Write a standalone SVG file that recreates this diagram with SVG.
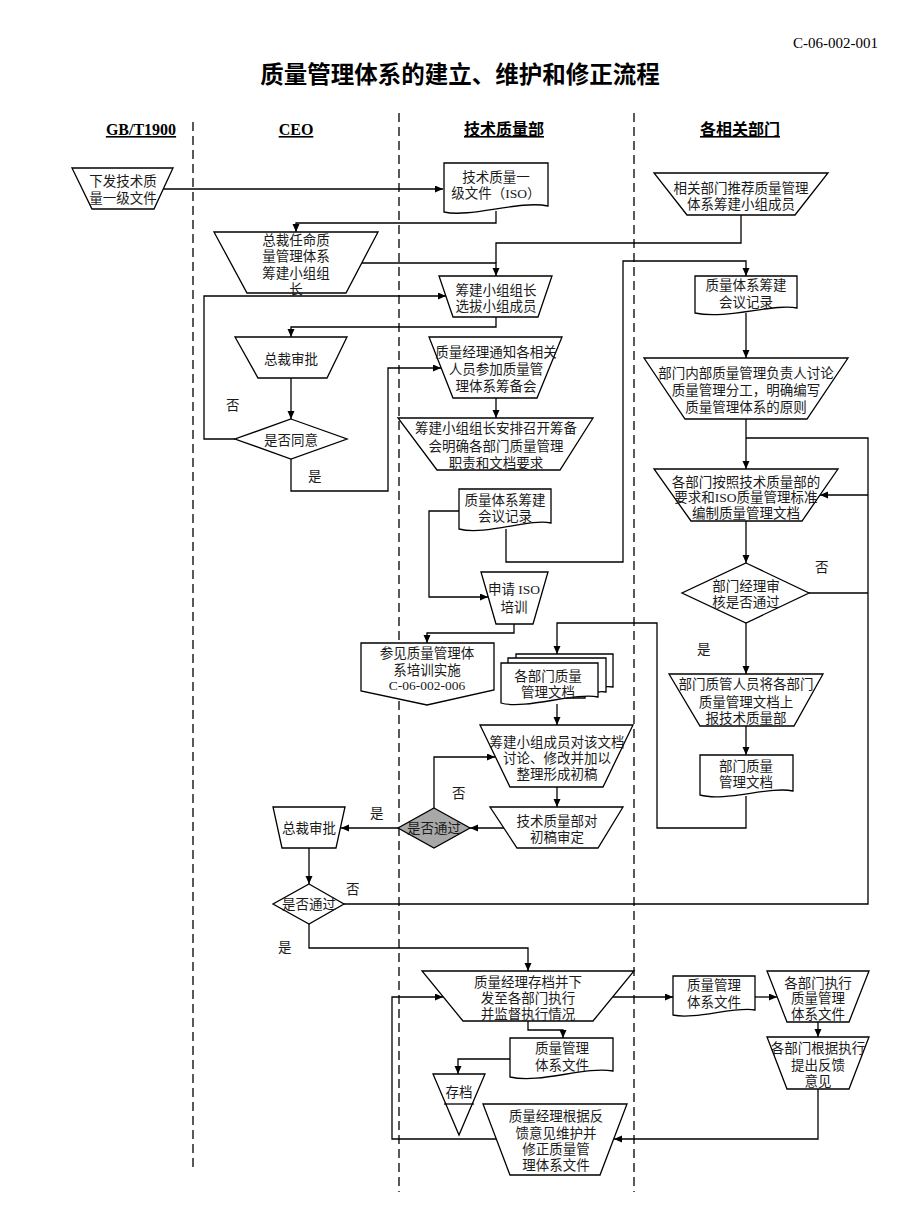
<svg xmlns="http://www.w3.org/2000/svg" width="920" height="1227" viewBox="0 0 920 1227">
<style>
.s{fill:#fff;stroke:#000;stroke-width:1.3}
.g{fill:#a8a8a8;stroke:#000;stroke-width:1.3}
.t{font-family:"Liberation Serif","Noto Sans CJK SC",serif;font-size:13.5px;fill:#1a1a1a;text-anchor:middle}
.l{font-family:"Liberation Serif","Noto Sans CJK SC",serif;font-size:13.5px;fill:#1a1a1a}
.h{font-family:"Liberation Serif","Noto Sans CJK SC",serif;font-size:16px;font-weight:bold;text-anchor:middle;text-decoration:underline}
.c{fill:none;stroke:#000;stroke-width:1.3}
.d{fill:none;stroke:#000;stroke-width:1.3;stroke-dasharray:9,5}
</style>
<defs>
<marker id="a" markerUnits="userSpaceOnUse" markerWidth="9" markerHeight="8" refX="8" refY="3.5" orient="auto"><path d="M0,0 L8,3.5 L0,7 z" fill="#000"/></marker>
</defs>
<rect width="920" height="1227" fill="#fff"/>
<text x="878" y="48" font-family="Liberation Serif,serif" font-size="15" text-anchor="end">C-06-002-001</text>
<text x="460" y="83" font-family="Noto Sans CJK SC,sans-serif" font-size="23.5" font-weight="bold" text-anchor="middle">质量管理体系的建立、维护和修正流程</text>
<g id="lanes">
<line class="d" x1="193" y1="122" x2="193" y2="1172"/>
<line class="d" x1="399" y1="113" x2="399" y2="1192"/>
<line class="d" x1="634" y1="113" x2="634" y2="1192"/>
<text class="h" x="141" y="135">GB/T1900</text>
<text class="h" x="296" y="135">CEO</text>
<text class="h" x="504" y="135">技术质量部</text>
<text class="h" x="740" y="135">各相关部门</text>
</g>
<g id="connectors">
<path class="c" d="M163,189 H443" marker-end="url(#a)"/>
<path class="c" d="M496,211 V223 H296 V232" marker-end="url(#a)"/>
<path class="c" d="M362,263 H496 V276" marker-end="url(#a)"/>
<path class="c" d="M741,215 V243 H496 V263"/>
<path class="c" d="M235,439 H204 V296 H446" marker-end="url(#a)"/>
<path class="c" d="M496,317 V327 H291 V337" marker-end="url(#a)"/>
<path class="c" d="M291,378 V419" marker-end="url(#a)"/>
<path class="c" d="M291,459 V491 H388 V368 H441" marker-end="url(#a)"/>
<path class="c" d="M496,398 V418" marker-end="url(#a)"/>
<path class="c" d="M506,529 V562 H623 V261 H746 V276" marker-end="url(#a)"/>
<path class="c" d="M459,511 H429 V597 H488" marker-end="url(#a)"/>
<path class="c" d="M514,624 V633 H427 V643" marker-end="url(#a)"/>
<path class="c" d="M746,796 V828 H657 V623 H557 V654" marker-end="url(#a)"/>
<path class="c" d="M557,704 V725" marker-end="url(#a)"/>
<path class="c" d="M557,787 V807" marker-end="url(#a)"/>
<path class="c" d="M504,828 H470" marker-end="url(#a)"/>
<path class="c" d="M434,808 V757 H495" marker-end="url(#a)"/>
<path class="c" d="M398,828 H341" marker-end="url(#a)"/>
<path class="c" d="M309,848 V884" marker-end="url(#a)"/>
<path class="c" d="M344,904 H868 V438 H746"/>
<path class="c" d="M868,495 H820" marker-end="url(#a)"/>
<path class="c" d="M809,593 H868"/>
<path class="c" d="M746,313 V358" marker-end="url(#a)"/>
<path class="c" d="M746,419 V469" marker-end="url(#a)"/>
<path class="c" d="M746,521 V563" marker-end="url(#a)"/>
<path class="c" d="M746,623 V674" marker-end="url(#a)"/>
<path class="c" d="M746,726 V755" marker-end="url(#a)"/>
<path class="c" d="M309,924 V948 H528 V971" marker-end="url(#a)"/>
<path class="c" d="M613,997 H673" marker-end="url(#a)"/>
<path class="c" d="M528,1021 V1030 H563 V1038" marker-end="url(#a)"/>
<path class="c" d="M510,1059 H458 V1074" marker-end="url(#a)"/>
<path class="c" d="M496,1139 H392 V997 H443" marker-end="url(#a)"/>
<path class="c" d="M755,997 H777" marker-end="url(#a)"/>
<path class="c" d="M818,1022 V1037" marker-end="url(#a)"/>
<path class="c" d="M818,1089 V1139 H614" marker-end="url(#a)"/>
<text class="l" x="226" y="410">否</text>
<text class="l" x="308" y="481">是</text>
<text class="l" x="452" y="798">否</text>
<text class="l" x="370" y="818">是</text>
<text class="l" x="346" y="894">否</text>
<text class="l" x="278" y="952">是</text>
<text class="l" x="815" y="572">否</text>
<text class="l" x="697" y="654">是</text>
</g>
<g id="n1"><path class="s" d="M72,168 H173 L154,209 H92 Z"/><text class="t" x="123" y="186">下发技术质</text><text class="t" x="123" y="203">量一级文件</text></g>
<g id="n2"><path class="s" d="M444,163 H548 V206 C520,200 470,218 444,212 Z"/><text class="t" x="496" y="182">技术质量一</text><text class="t" x="496" y="198">级文件（ISO）</text></g>
<g id="n3"><path class="s" d="M214,232 H378 L346,293 H247 Z"/><text class="t" x="296" y="245">总裁任命质</text><text class="t" x="296" y="261">量管理体系</text><text class="t" x="296" y="278">筹建小组组</text><text class="t" x="296" y="294">长</text></g>
<g id="n4"><path class="s" d="M654,173 H828 L795,215 H687 Z"/><text class="t" x="741" y="193">相关部门推荐质量管理</text><text class="t" x="741" y="209">体系筹建小组成员</text></g>
<g id="n5"><path class="s" d="M439,276 H552 L538,317 H453 Z"/><text class="t" x="496" y="295">筹建小组组长</text><text class="t" x="496" y="311">选拔小组成员</text></g>
<g id="n6"><path class="s" d="M235,337 H347 L327,378 H258 Z"/><text class="t" x="291" y="364">总裁审批</text></g>
<g id="n7"><path class="s" d="M291,419 L347,439 L291,459 L235,439 Z"/><text class="t" x="291" y="445">是否同意</text></g>
<g id="n8"><path class="s" d="M429,337 H562 L537,398 H453 Z"/><text class="t" x="496" y="357">质量经理通知各相关</text><text class="t" x="496" y="374">人员参加质量管</text><text class="t" x="496" y="391">理体系筹备会</text></g>
<g id="n9"><path class="s" d="M398,418 H593 L560,470 H437 Z"/><text class="t" x="496" y="433">筹建小组组长安排召开筹备</text><text class="t" x="496" y="451">会明确各部门质量管理</text><text class="t" x="496" y="468">职责和文档要求</text></g>
<g id="n10"><path class="s" d="M459,489 H551 V523 C530,518 485,536 459,529 Z"/><text class="t" x="505" y="505">质量体系筹建</text><text class="t" x="505" y="521">会议记录</text></g>
<g id="n11"><path class="s" d="M481,572 H548 L533,624 H496 Z"/><text class="t" x="514" y="594">申请 ISO</text><text class="t" x="514" y="612">培训</text></g>
<g id="n12"><path class="s" d="M361,643 H494 V690 L427,705 L361,691 Z"/><text class="t" x="427" y="658">参见质量管理体</text><text class="t" x="427" y="675">系培训实施</text><text class="t" x="427" y="690">C-06-002-006</text></g>
<g id="n13"><path class="s" d="M516,654 H613 V687 C600,685 595,690 590,690 V694 H516 Z"/><path class="s" d="M508,658 H606 V692 C595,690 590,695 585,696 V698 H508 Z"/><path class="s" d="M501,663 H598 V697 C575,692 525,710 501,703 Z"/><text class="t" x="548" y="681">各部门质量</text><text class="t" x="548" y="697">管理文档</text></g>
<g id="n14"><path class="s" d="M480,725 H633 L603,787 H510 Z"/><text class="t" x="557" y="747">筹建小组成员对该文档</text><text class="t" x="557" y="763">讨论、修改并加以</text><text class="t" x="557" y="779">整理形成初稿</text></g>
<g id="n15"><path class="s" d="M490,807 H623 L598,848 H517 Z"/><text class="t" x="557" y="826">技术质量部对</text><text class="t" x="557" y="842">初稿审定</text></g>
<g id="n16"><path class="g" d="M434,808 L470,828 L434,848 L398,828 Z"/><text class="t" x="434" y="833">是否通过</text></g>
<g id="n17"><path class="s" d="M273,807 H345 L336,848 H282 Z"/><text class="t" x="309" y="833">总裁审批</text></g>
<g id="n18"><path class="s" d="M309,884 L344,904 L309,924 L273,904 Z"/><text class="t" x="309" y="909">是否通过</text></g>
<g id="n19"><path class="s" d="M422,971 H634 L593,1021 H463 Z"/><text class="t" x="528" y="987">质量经理存档并下</text><text class="t" x="528" y="1003">发至各部门执行</text><text class="t" x="528" y="1019">并监督执行情况</text></g>
<g id="n20"><path class="s" d="M510,1038 H613 V1071 C585,1066 540,1084 510,1077 Z"/><text class="t" x="562" y="1053">质量管理</text><text class="t" x="562" y="1070">体系文件</text></g>
<g id="n21"><path class="s" d="M433,1074 H485 L459,1135 Z"/><line class="s" x1="444" y1="1104" x2="474" y2="1104"/><text class="t" x="459" y="1097">存档</text></g>
<g id="n22"><path class="s" d="M483,1104 H627 L600,1175 H510 Z"/><text class="t" x="556" y="1121">质量经理根据反</text><text class="t" x="556" y="1138">馈意见维护并</text><text class="t" x="556" y="1154">修正质量管</text><text class="t" x="556" y="1170">理体系文件</text></g>
<g id="n23"><path class="s" d="M673,976 H755 V1010 C735,1006 695,1020 673,1015 Z"/><text class="t" x="714" y="990">质量管理</text><text class="t" x="714" y="1007">体系文件</text></g>
<g id="n24"><path class="s" d="M767,971 H869 L849,1022 H787 Z"/><text class="t" x="818" y="988">各部门执行</text><text class="t" x="818" y="1003">质量管理</text><text class="t" x="818" y="1019">体系文件</text></g>
<g id="n25"><path class="s" d="M767,1037 H869 L849,1089 H787 Z"/><text class="t" x="818" y="1053">各部门根据执行</text><text class="t" x="818" y="1070">提出反馈</text><text class="t" x="818" y="1086">意见</text></g>
<g id="n26"><path class="s" d="M695,276 H797 V308 C775,303 725,320 695,313 Z"/><text class="t" x="746" y="290">质量体系筹建</text><text class="t" x="746" y="307">会议记录</text></g>
<g id="n27"><path class="s" d="M644,358 H848 L807,419 H685 Z"/><text class="t" x="746" y="378">部门内部质量管理负责人讨论</text><text class="t" x="746" y="395">质量管理分工，明确编写</text><text class="t" x="746" y="412">质量管理体系的原则</text></g>
<g id="n28"><path class="s" d="M654,469 H838 L802,521 H691 Z"/><text class="t" x="746" y="487">各部门按照技术质量部的</text><text class="t" x="746" y="502">要求和ISO质量管理标准</text><text class="t" x="746" y="518">编制质量管理文档</text></g>
<g id="n29"><path class="s" d="M746,563 L809,593 L746,623 L682,593 Z"/><text class="t" x="746" y="591">部门经理审</text><text class="t" x="746" y="607">核是否通过</text></g>
<g id="n30"><path class="s" d="M669,674 H823 L794,726 H700 Z"/><text class="t" x="746" y="689">部门质管人员将各部门</text><text class="t" x="746" y="707">质量管理文档上</text><text class="t" x="746" y="723">报技术质量部</text></g>
<g id="n31"><path class="s" d="M700,755 H793 V791 C770,786 725,802 700,795 Z"/><text class="t" x="746" y="771">部门质量</text><text class="t" x="746" y="787">管理文档</text></g>
</svg>
